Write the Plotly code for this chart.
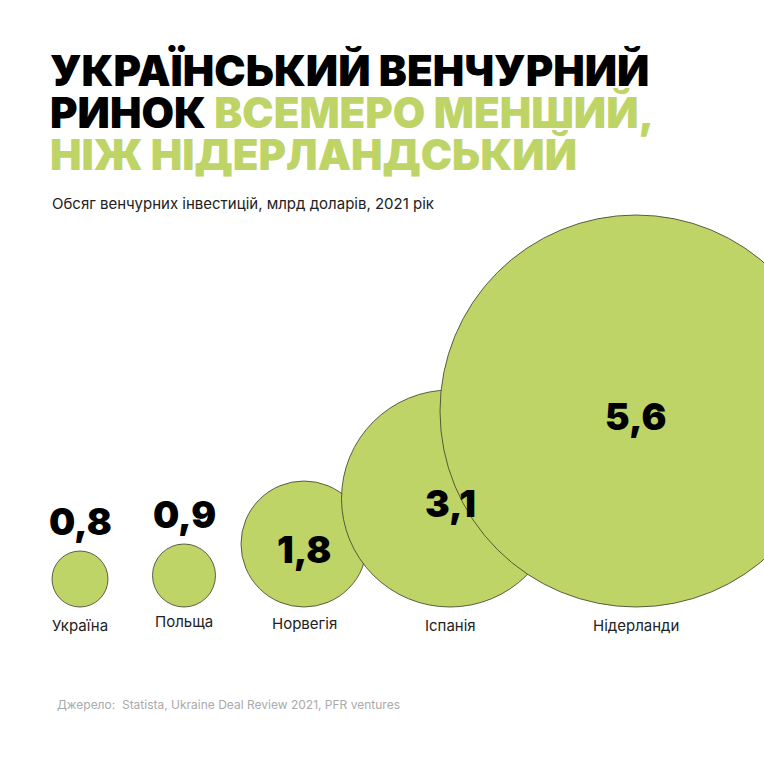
import plotly.graph_objects as go

countries = ["Україна", "Польща", "Норвегія", "Іспанія", "Нідерланди"]
values = [0.8, 0.9, 1.8, 3.1, 5.6]
labels = ["0,8", "0,9", "1,8", "3,1", "5,6"]

centers_x = [80, 184, 304, 450, 636]
base_y = 607
scale = 35  # px per unit radius
GREEN = "#bfd466"

fig = go.Figure()
shapes = []
ann = []
for c, v, lab, cx in zip(countries, values, labels, centers_x):
    r = v * scale
    shapes.append(dict(type="circle", xref="x", yref="y", x0=cx - r, x1=cx + r,
                       y0=base_y - 2 * r, y1=base_y, fillcolor=GREEN,
                       line=dict(color="#3a3a2a", width=0.8), layer="below"))
    cy = base_y - r
    ty = cy - r - 30 if r < 40 else cy + 5
    ann.append(dict(x=cx, y=ty, text=lab, showarrow=False, xref="x", yref="y",
                    font=dict(family="Inter", size=37, color="black", weight=900)))
    ann.append(dict(x=cx, y=base_y + 18 - (4 if c == "Польща" else 0) - (2 if c == "Норвегія" else 0),
                    text=c, showarrow=False, xref="x", yref="y",
                    font=dict(family="Inter", size=15, color="#222")))

title_lines = ["УКРАЇНСЬКИЙ ВЕНЧУРНИЙ",
               "РИНОК <span style='color:%s'>ВСЕМЕРО МЕНШИЙ,</span>" % GREEN,
               "<span style='color:%s'>НІЖ НІДЕРЛАНДСЬКИЙ</span>" % GREEN]
for i, t in enumerate(title_lines):
    ann.append(dict(x=48, y=70 + i * 42, text=t, showarrow=False, xref="x", yref="y",
                    xanchor="left", font=dict(family="Inter", size=42, color="black", weight=900)))
ann.append(dict(x=50, y=203, text="Обсяг венчурних інвестицій, млрд доларів, 2021 рік", showarrow=False,
                xref="x", yref="y", xanchor="left", font=dict(family="Inter", size=15, color="#222")))
ann.append(dict(x=55, y=704, text="Джерело:  Statista, Ukraine Deal Review 2021, PFR ventures", showarrow=False,
                xref="x", yref="y", xanchor="left", font=dict(family="Inter", size=12, color="#aaaaaa")))

fig.update_layout(width=764, height=764, margin=dict(l=0, r=0, t=0, b=0),
                  paper_bgcolor="white", plot_bgcolor="white", shapes=shapes, annotations=ann,
                  xaxis=dict(range=[0, 764], visible=False, fixedrange=True),
                  yaxis=dict(range=[764, 0], visible=False, fixedrange=True),
                  showlegend=False)
fig.write_html("out.html", config={"displayModeBar": False},
               post_script="document.body.style.margin='0';document.body.style.overflow='hidden';")
